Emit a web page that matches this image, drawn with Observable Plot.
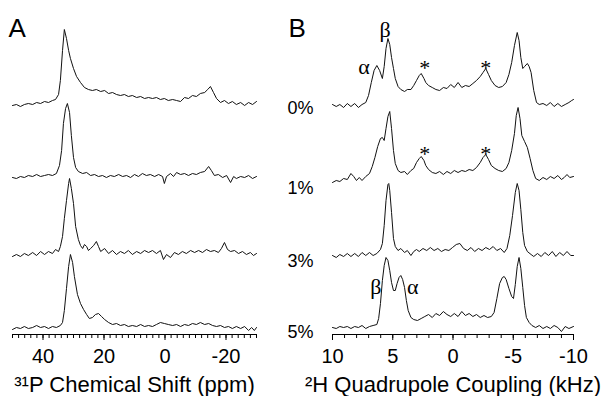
<!DOCTYPE html>
<html><head><meta charset="utf-8">
<script src="https://cdn.jsdelivr.net/npm/d3@7"></script>
<script src="https://cdn.jsdelivr.net/npm/@observablehq/plot@0.6"></script>
<style>
body{margin:0;background:#fff;}
#wrap{display:flex;width:616px;height:396px;}
#wrap svg{display:block;overflow:visible}
</style></head><body><div id="wrap"></div>
<script>
// ---------- Panel A: 31P spectra, [ppm, intensity] ----------
const pTrace1 = [[50,-1],[48.7,0],[47.4,-2],[46.1,0],[44.8,1],[43.4,0],[42.1,2],[40.8,1],[39.5,3],[38.2,2],[36.9,4],[35.9,5],[34.9,10],[34.3,24],[33.6,54],[33.0,75],[32.3,66],[31.6,54],[31.0,46],[30.0,36],[29.0,28],[27.7,22],[26.4,17],[25.1,15],[23.8,14],[22.5,15],[21.1,13],[19.8,14],[18.5,11],[17.2,12],[15.9,10],[14.6,9],[13.3,10],[12.0,8],[10.7,9],[9.3,7],[8.0,8],[6.7,6],[5.4,7],[4.1,6],[2.8,7],[1.5,5],[0.2,6],[-1.1,4],[-2.5,5],[-3.8,4],[-5.1,3],[-6.4,7],[-7.7,6],[-9.0,9],[-10.3,8],[-11.6,11],[-13.0,12],[-14.0,15],[-14.9,18],[-15.9,12],[-16.9,6],[-18.2,2],[-19.5,4],[-20.8,1],[-22.1,3],[-23.4,0],[-24.8,2],[-26.1,-1],[-27.4,2],[-28.7,0],[-30.0,3]];
const pTrace2 = [[50,0],[48.7,-1],[47.4,1],[46.1,0],[44.8,2],[43.4,1],[42.1,3],[40.8,1],[39.5,2],[38.2,3],[36.9,2],[35.6,4],[34.6,12],[33.9,27],[33.3,54],[32.6,69],[32.0,74],[31.3,65],[30.7,42],[30.0,20],[29.3,10],[28.4,6],[27.0,4],[25.7,5],[24.4,2],[23.1,3],[21.8,1],[20.5,2],[19.2,0],[17.9,2],[16.6,1],[15.2,3],[13.9,1],[12.6,2],[11.3,0],[10.0,3],[8.7,1],[7.4,4],[6.1,2],[4.8,3],[3.4,1],[2.1,3],[0.8,1],[0.2,-6],[-0.5,1],[-1.8,4],[-2.8,1],[-3.8,5],[-5.1,3],[-6.4,4],[-7.7,2],[-9.0,4],[-10.3,3],[-11.6,5],[-13.0,6],[-14.3,11],[-15.2,7],[-16.2,2],[-17.5,3],[-18.9,0],[-20.2,2],[-21.5,-5],[-22.5,1],[-23.4,-1],[-24.8,1],[-26.1,0],[-27.4,2],[-28.7,-1],[-30.0,1]];
const pTrace3 = [[50,-1],[48.7,1],[47.4,-1],[46.1,2],[44.8,0],[43.4,3],[42.1,0],[40.8,4],[39.5,1],[38.2,4],[36.9,2],[35.9,6],[34.9,4],[34.3,9],[33.6,19],[33.0,37],[32.3,55],[31.6,72],[31.3,77],[30.7,67],[30.0,52],[29.3,29],[28.4,16],[27.7,10],[27.0,7],[26.4,11],[25.7,9],[25.1,5],[24.4,7],[23.4,10],[22.5,14],[21.8,9],[21.1,4],[19.8,7],[18.5,2],[17.2,5],[15.9,1],[14.6,4],[13.3,2],[12.0,5],[10.7,1],[9.3,4],[8.0,2],[6.7,5],[5.4,3],[4.1,5],[2.8,2],[1.5,5],[0.5,-4],[-0.5,1],[-1.8,-2],[-3.1,3],[-4.4,1],[-5.7,4],[-7.0,2],[-8.4,5],[-9.7,3],[-11.0,5],[-12.3,3],[-13.6,6],[-14.9,4],[-16.2,5],[-17.5,3],[-18.5,7],[-19.5,13],[-20.5,6],[-21.5,4],[-22.8,5],[-24.1,2],[-25.4,4],[-26.7,1],[-28.0,3],[-29.0,0],[-30.0,2]];
const pTrace4 = [[50,-1],[48.7,1],[47.4,0],[46.1,2],[44.8,0],[43.4,1],[42.1,3],[40.8,1],[39.5,2],[38.2,0],[36.9,2],[35.6,1],[34.3,3],[33.6,6],[33.0,18],[32.3,40],[31.6,62],[31.0,74],[30.3,66],[29.7,52],[28.7,34],[27.7,25],[26.7,19],[25.7,14],[24.8,10],[23.8,11],[22.8,14],[21.8,15],[20.8,12],[19.8,9],[18.5,6],[17.2,4],[15.9,5],[14.6,3],[13.3,4],[12.0,2],[10.7,3],[9.3,2],[8.0,4],[6.7,2],[5.4,3],[4.1,2],[2.8,4],[1.5,6],[0.2,5],[-1.1,4],[-2.5,3],[-3.8,4],[-5.1,2],[-6.4,4],[-7.7,3],[-9.0,5],[-10.3,4],[-11.6,6],[-13.0,4],[-14.3,5],[-15.6,3],[-16.9,2],[-18.2,3],[-19.5,1],[-20.8,2],[-22.1,0],[-23.4,2],[-24.8,0],[-26.1,2],[-27.4,-2],[-28.4,1],[-29.3,-2],[-30.0,1]];
const pOffsets = [230, 157, 79, 6];
const pTicksMajor = [40, 20, 0, -20];
const pTicksMinor = [50,48,46,44,42,40,38,36,34,32,30,28,26,24,22,20,18,16,14,12,10,8,6,4,2,0,-2,-4,-6,-8,-10,-12,-14,-16,-18,-20,-22,-24,-26,-28,-30];
const pTitle = "³¹P Chemical Shift (ppm)";

// ---------- Panel B: 2H spectra, [kHz, intensity] ----------
const hLabels = ["0%", "1%", "3%", "5%"];
const hLabelY = [226, 146, 73, 2];
const hTrace0 = [[10.00,1],[9.69,-1],[9.39,1],[9.08,-2],[8.77,2],[8.47,-1],[8.16,2],[7.85,-2],[7.55,1],[7.24,3],[7.01,10],[6.78,23],[6.55,35],[6.32,40],[6.09,35],[5.86,27],[5.71,39],[5.56,57],[5.40,67],[5.25,61],[5.10,48],[4.94,37],[4.79,27],[4.56,19],[4.33,16],[4.02,14],[3.79,16],[3.49,16],[3.26,20],[3.03,25],[2.80,30],[2.64,32],[2.41,27],[2.26,23],[2.03,20],[1.72,18],[1.42,16],[1.11,15],[0.80,18],[0.50,17],[0.19,21],[-0.11,18],[-0.42,23],[-0.73,18],[-1.03,20],[-1.34,19],[-1.65,22],[-1.95,25],[-2.26,29],[-2.49,33],[-2.72,37],[-2.95,31],[-3.18,25],[-3.49,20],[-3.79,18],[-4.10,19],[-4.41,23],[-4.64,31],[-4.87,43],[-5.10,60],[-5.33,73],[-5.48,65],[-5.63,48],[-5.79,37],[-5.94,39],[-6.17,42],[-6.32,39],[-6.48,33],[-6.70,15],[-6.93,3],[-7.16,1],[-7.47,2],[-7.78,0],[-8.08,3],[-8.39,-1],[-8.70,2],[-9.00,-1],[-9.31,1],[-9.62,3],[-9.85,5],[-10.00,6]];
const hTrace1 = [[10.00,-3],[9.69,-1],[9.39,-2],[9.08,1],[8.77,0],[8.47,6],[8.24,3],[8.01,-1],[7.78,2],[7.55,-1],[7.24,3],[6.93,6],[6.70,13],[6.48,22],[6.25,33],[6.02,41],[5.86,42],[5.71,39],[5.56,51],[5.40,63],[5.25,68],[5.10,51],[4.94,29],[4.79,16],[4.56,9],[4.33,7],[4.02,8],[3.79,5],[3.49,9],[3.26,11],[3.03,17],[2.80,21],[2.64,23],[2.41,19],[2.26,14],[2.03,10],[1.72,7],[1.42,6],[1.11,8],[0.80,5],[0.50,8],[0.19,6],[-0.11,9],[-0.42,7],[-0.73,9],[-1.03,8],[-1.34,10],[-1.65,9],[-1.95,12],[-2.26,17],[-2.49,22],[-2.72,25],[-2.95,20],[-3.18,14],[-3.49,11],[-3.79,9],[-4.10,8],[-4.41,11],[-4.64,17],[-4.87,29],[-5.10,46],[-5.25,64],[-5.40,72],[-5.56,61],[-5.71,44],[-5.94,38],[-6.17,32],[-6.40,21],[-6.63,9],[-6.86,1],[-7.16,-1],[-7.47,2],[-7.78,0],[-8.08,3],[-8.39,1],[-8.70,4],[-9.00,0],[-9.23,2],[-9.46,5],[-9.69,2],[-10.00,3]];
const hTrace3 = [[10.00,0],[9.69,-2],[9.39,1],[9.08,-1],[8.77,2],[8.47,-1],[8.16,2],[7.85,-1],[7.55,3],[7.24,0],[6.93,3],[6.63,0],[6.32,2],[6.02,6],[5.86,12],[5.71,30],[5.56,55],[5.40,71],[5.33,72],[5.25,65],[5.10,43],[4.94,17],[4.79,9],[4.56,5],[4.33,7],[4.02,3],[3.79,5],[3.49,0],[3.26,4],[3.03,6],[2.80,4],[2.49,7],[2.18,5],[1.88,8],[1.57,5],[1.26,7],[0.96,4],[0.65,6],[0.34,5],[0.04,8],[-0.27,11],[-0.57,12],[-0.88,7],[-1.19,5],[-1.49,8],[-1.80,4],[-2.11,7],[-2.41,5],[-2.72,8],[-3.03,6],[-3.33,9],[-3.64,5],[-3.95,7],[-4.25,3],[-4.48,7],[-4.71,20],[-4.94,40],[-5.17,63],[-5.33,72],[-5.48,65],[-5.63,46],[-5.79,23],[-5.94,10],[-6.17,4],[-6.48,1],[-6.70,-1],[-7.01,2],[-7.32,-1],[-7.62,3],[-7.93,0],[-8.24,4],[-8.54,-1],[-8.85,3],[-9.16,0],[-9.46,4],[-9.77,0],[-10.00,0]];
const hTrace5 = [[10.00,1],[9.69,0],[9.39,2],[9.08,1],[8.77,2],[8.47,0],[8.16,2],[7.85,1],[7.55,3],[7.24,0],[6.93,2],[6.63,3],[6.32,4],[6.17,10],[6.02,25],[5.86,48],[5.71,63],[5.56,71],[5.40,68],[5.25,58],[5.10,46],[4.94,38],[4.79,38],[4.64,45],[4.48,51],[4.33,53],[4.18,49],[4.02,41],[3.87,28],[3.72,18],[3.49,11],[3.26,9],[2.95,8],[2.64,10],[2.34,12],[2.03,14],[1.72,11],[1.42,15],[1.11,13],[0.80,17],[0.50,14],[0.19,12],[-0.11,15],[-0.42,12],[-0.73,17],[-1.03,13],[-1.34,15],[-1.65,12],[-1.95,14],[-2.26,11],[-2.57,13],[-2.87,11],[-3.18,12],[-3.41,16],[-3.64,30],[-3.87,45],[-4.10,51],[-4.25,52],[-4.41,49],[-4.64,40],[-4.87,32],[-5.02,30],[-5.17,44],[-5.33,62],[-5.48,71],[-5.63,60],[-5.79,41],[-5.94,23],[-6.09,11],[-6.32,6],[-6.55,3],[-6.86,1],[-7.16,3],[-7.47,0],[-7.78,2],[-8.08,0],[-8.39,3],[-8.70,1],[-9.00,-3],[-9.31,2],[-9.62,0],[-10.00,2]];
const hOffsets = [229, 155, 79, 6];
const hTicksMajor = [10, 5, 0, -5, -10];
const hTicksMinor = [10,9,8,7,6,5,4,3,2,1,0,-1,-2,-3,-4,-5,-6,-7,-8,-9,-10];
const hTitle = "²H Quadrupole Coupling (kHz)";
// peak annotations: [text, kHz, height]
const hNotes = [["α",7.39,268],["β",5.63,305],["*",2.34,267],["*",-2.72,267],["*",2.34,181],["*",-2.72,181],["β",6.40,48],["α",3.33,48]];

// ---------- drawing ----------
const sans = "'Liberation Sans', Arial, Helvetica, sans-serif";
const serif = "'Liberation Serif', 'Times New Roman', serif";
function flatten(traces, offsets) {
  return traces.flatMap((t, i) => t.map(([x, v]) => ({trace: i, x, y: v + offsets[i]})));
}
function panel({width, marginLeft, marginRight, domain, traces, offsets, major, minor, title, letter, letterDx, extra}) {
  return Plot.plot({
    width, height: 396, marginLeft, marginRight, marginTop: 14, marginBottom: 62,
    x: {domain},
    y: {domain: [0, 320], axis: null},
    style: {fontFamily: sans, color: "#000", background: "#fff", overflow: "visible"},
    marks: [
      Plot.ruleY([0], {stroke: "#000", strokeWidth: 1}),
      Plot.axisX({ticks: minor, tickSize: 4, tickFormat: () => "", label: null}),
      Plot.axisX({ticks: major, tickSize: 6, tickPadding: 8, tickFormat: d => String(d), fontSize: 20, label: null}),
      Plot.line(flatten(traces, offsets), {x: "x", y: "y", z: "trace", stroke: "#111", strokeWidth: 1}),
      Plot.text([title], {frameAnchor: "bottom", dy: 50, fontSize: 22, lineAnchor: "middle"}),
      Plot.text([letter], {frameAnchor: "top-left", dx: letterDx, dy: 4, fontSize: 26, textAnchor: "start", lineAnchor: "top"}),
      ...extra
    ]
  });
}
const plotA = panel({width: 280, marginLeft: 12, marginRight: 24, domain: [50, -30],
  traces: [pTrace1, pTrace2, pTrace3, pTrace4], offsets: pOffsets,
  major: pTicksMajor, minor: pTicksMinor, title: pTitle, letter: "A", letterDx: -4, extra: []});
const plotB = panel({width: 336, marginLeft: 52, marginRight: 43, domain: [10, -10],
  traces: [hTrace0, hTrace1, hTrace3, hTrace5], offsets: hOffsets,
  major: hTicksMajor, minor: hTicksMinor, title: hTitle, letter: "B", letterDx: -44,
  extra: [
    Plot.text(hLabels, {frameAnchor: "left", y: (d, i) => hLabelY[i], text: d => d, dx: -45, textAnchor: "start", fontSize: 18}),
    Plot.text(hNotes, {x: d => d[1], y: d => d[2], text: d => d[0], fontFamily: serif, fontSize: 22})
  ]});
document.getElementById("wrap").append(plotA, plotB);
</script></body></html>
